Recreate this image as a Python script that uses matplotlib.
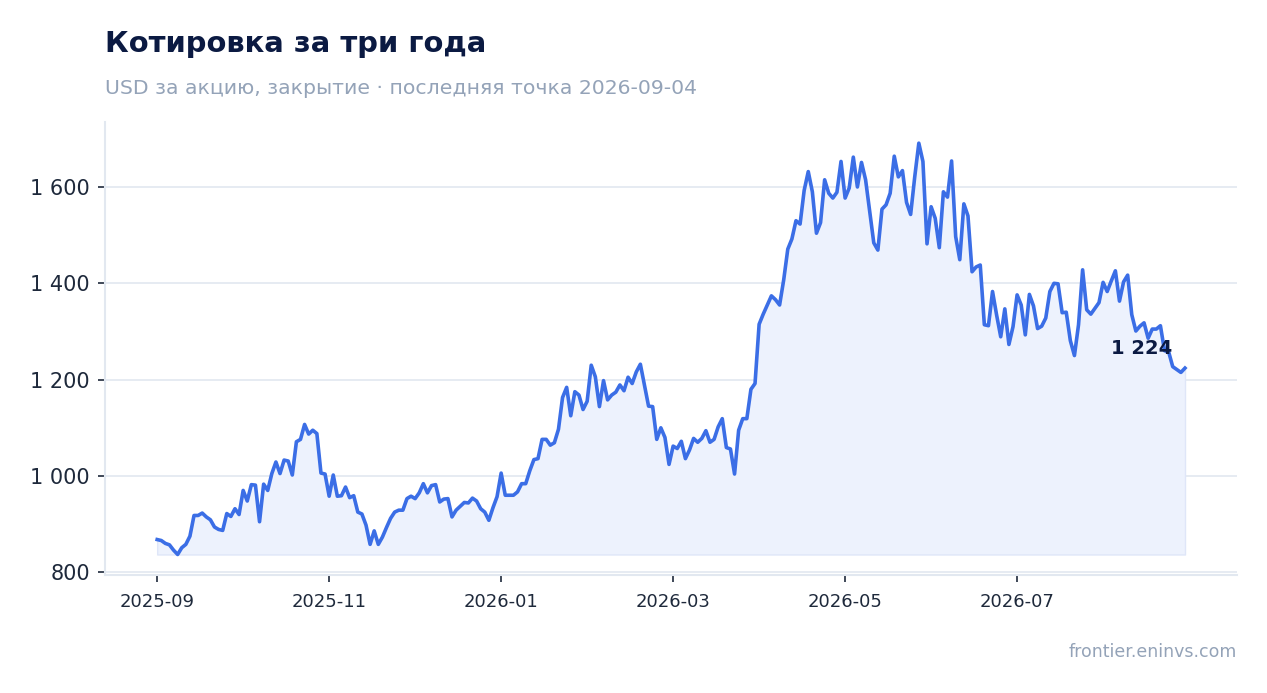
import numpy as np
import matplotlib
matplotlib.use("Agg")
from matplotlib import pyplot as plt
from matplotlib.ticker import FuncFormatter

# closing prices, one per trading session
close = [
    868, 866, 860, 857, 846, 837, 851, 858, 875, 918, 918, 923, 915, 909, 894, 889, 887, 922, 916, 932,
    920, 970, 948, 982, 981, 905, 983, 970, 1005, 1029, 1005, 1033, 1031, 1002, 1071, 1076, 1107, 1087, 1095, 1088,
    1006, 1004, 958, 1002, 958, 959, 977, 955, 959, 925, 921, 898, 858, 886, 858, 873, 893, 912, 925, 929,
    929, 953, 958, 953, 965, 984, 965, 980, 982, 946, 952, 953, 915, 929, 937, 945, 944, 954, 948, 932,
    925, 908, 934, 957, 1006, 960, 960, 960, 967, 984, 984, 1011, 1034, 1036, 1076, 1076, 1064, 1069, 1097, 1163,
    1184, 1125, 1175, 1168, 1138, 1155, 1230, 1206, 1144, 1198, 1158, 1168, 1174, 1189, 1177, 1205, 1192, 1216, 1232, 1189,
    1145, 1144, 1076, 1100, 1080, 1024, 1062, 1057, 1072, 1036, 1054, 1078, 1070, 1078, 1094, 1070, 1076, 1102, 1119, 1059,
    1056, 1004, 1095, 1119, 1119, 1180, 1192, 1315, 1336, 1355, 1374, 1366, 1355, 1407, 1471, 1492, 1530, 1523, 1593, 1632,
    1590, 1504, 1526, 1615, 1587, 1577, 1589, 1653, 1577, 1598, 1662, 1600, 1651, 1615, 1549, 1484, 1469, 1554, 1563, 1587,
    1664, 1621, 1634, 1568, 1543, 1621, 1691, 1653, 1482, 1559, 1535, 1474, 1590, 1579, 1654, 1497, 1449, 1565, 1540, 1424,
    1434, 1438, 1314, 1312, 1383, 1334, 1289, 1347, 1273, 1310, 1376, 1355, 1293, 1377, 1353, 1306, 1311, 1328, 1383, 1400,
    1399, 1339, 1340, 1281, 1250, 1314, 1428, 1345, 1336, 1348, 1360, 1402, 1383, 1405, 1426, 1363, 1403, 1417, 1335, 1301,
    1311, 1318, 1286, 1305, 1305, 1312, 1260, 1258, 1227, 1221, 1215, 1224,
]
tick_labels = ["2025-09", "2025-11", "2026-01", "2026-03", "2026-05", "2026-07"]
tick_step = 42  # sessions between month labels
y_ticks = [800, 1000, 1200, 1400, 1600]

title = "Котировка за три года"
subtitle = "USD за акцию, закрытие · последняя точка 2026-09-04"
source = "frontier.eninvs.com"

LINE = "#3b6ee6"
FILL = "#edf2fd"
NAVY = "#0b1a42"
GREY = "#94a3b8"
GRID = "#e2e8f0"

y = np.array(close, dtype=float)
x = np.arange(len(y))

fig = plt.figure(figsize=(12.67, 6.93), dpi=100)
ax = fig.add_axes([0.083, 0.170, 0.893, 0.654])

ax.fill_between(x, y, y.min(), facecolor=FILL, edgecolor="#dfe6f8", linewidth=1, zorder=1)
ax.plot(x, y, color=LINE, linewidth=2.6, solid_joinstyle="round", zorder=3)

# last value label
ax.annotate(f"{int(y[-1]):,}".replace(",", " "), xy=(x[-1], y[-1]),
            xytext=(-13, 20), textcoords="offset pixels",
            ha="right", va="center", fontsize=14, fontweight="bold", color=NAVY, zorder=4)

ax.set_xlim(-12.7, 263.6)
ax.set_ylim(794, 1735)
ax.set_xticks(np.arange(len(tick_labels)) * tick_step)
ax.set_xticklabels(tick_labels)
ax.set_yticks(y_ticks)
ax.yaxis.set_major_formatter(FuncFormatter(lambda v, p: f"{int(v):,}".replace(",", " ")))

ax.grid(axis="y", color=GRID, linewidth=1.2, zorder=0)
ax.set_axisbelow(True)
for side in ["top", "right"]:
    ax.spines[side].set_visible(False)
for side in ["left", "bottom"]:
    ax.spines[side].set_color(GRID)
    ax.spines[side].set_linewidth(1.5)

ax.tick_params(axis="y", labelsize=15, colors="#1e293b", length=5, width=1.2, pad=6)
ax.tick_params(axis="x", labelsize=13, colors="#1e293b", length=5, width=1.2, pad=8)
for t in ax.get_xticklines() + ax.get_yticklines():
    t.set_color("#334155")

fig.text(105 / 1267, 1 - 44 / 693, title, fontsize=20.9, fontweight="bold", color=NAVY, va="center")
fig.text(105 / 1267, 1 - 88 / 693, subtitle, fontsize=14.7, color=GREY, va="center")
fig.text(1237 / 1267, 1 - 652 / 693, source, fontsize=12.5, color=GREY, ha="right", va="center")

fig.savefig("out.png", dpi=100)
